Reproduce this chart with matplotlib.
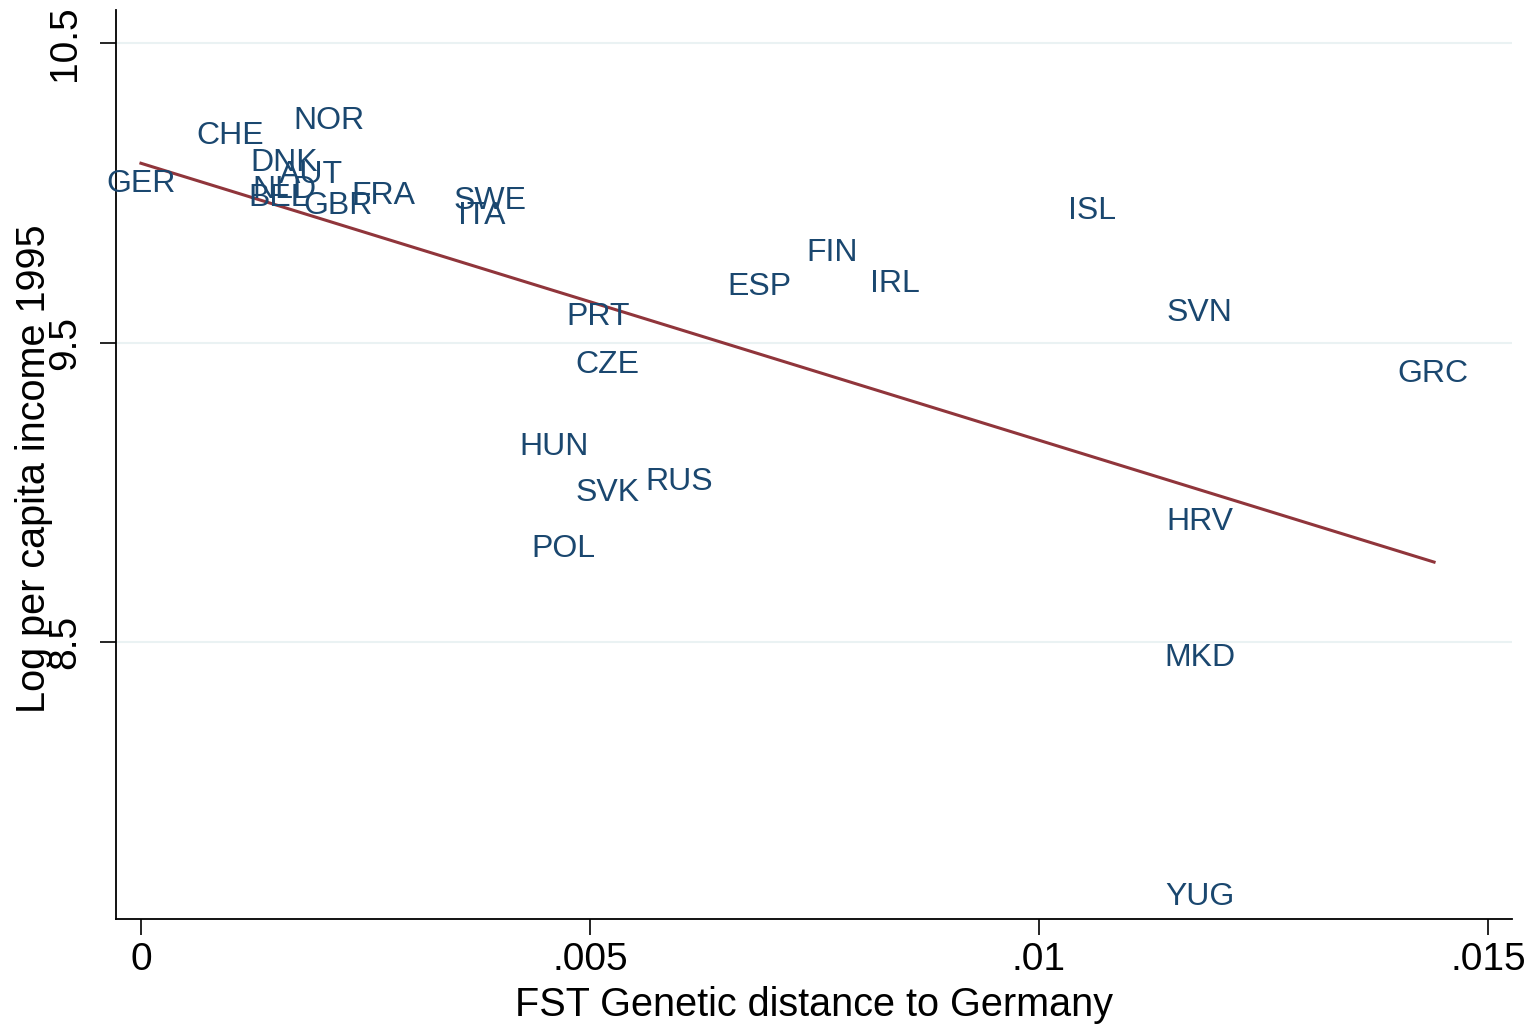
import matplotlib
matplotlib.use("Agg")
import matplotlib.pyplot as plt
import matplotlib.transforms as mtransforms
import numpy as np

plt.rcParams['font.family'] = ['Liberation Sans', 'DejaVu Sans']

# Country codes with genetic distance to Germany and log income 1995
countries = ["GER", "CHE", "NOR", "DNK", "AUT", "NLD", "BEL", "GBR", "FRA",
             "SWE", "ITA", "ISL", "FIN", "ESP", "IRL", "PRT", "SVN", "CZE",
             "GRC", "HUN", "SVK", "RUS", "HRV", "POL", "MKD", "YUG"]
fst_dist = [0.0, 0.00099, 0.00209, 0.00160, 0.00189, 0.00160, 0.00153, 0.00219,
            0.00270, 0.00389, 0.00380, 0.01059, 0.00770, 0.00689, 0.00840,
            0.00509, 0.01179, 0.00519, 0.01439, 0.00460, 0.00520, 0.00599,
            0.01179, 0.00470, 0.01179, 0.01179]
log_income = [10.039, 10.200, 10.250, 10.109, 10.069, 10.019, 9.992, 9.966,
              9.999, 9.982, 9.932, 9.949, 9.809, 9.695, 9.705, 9.595, 9.608,
              9.435, 9.405, 9.161, 9.008, 9.044, 8.911, 8.821, 8.457, 7.659]

# fitted line end points
fit_x = [0.0, 0.0144]
fit_y = [10.099, 8.767]

xticks = [0, 0.005, 0.01, 0.015]
xticklabels = ["0", ".005", ".01", ".015"]
yticks = [8.5, 9.5, 10.5]
yticklabels = ["8.5", "9.5", "10.5"]

label_color = "#1a476f"
line_color = "#90353b"

fig = plt.figure(figsize=(15.32, 10.26), dpi=100)
ax = fig.add_axes([0.0757, 0.1043, 0.9112, 0.8857])

ax.set_xlim(-0.000278, 0.015267)
ax.set_ylim(7.575, 10.61)

# horizontal grid lines
for yv in yticks:
    ax.axhline(yv, color="#eaf2f3", linewidth=1.5, zorder=0)

ax.plot(fit_x, fit_y, color=line_color, linewidth=2.2, zorder=2)

# marker labels centred on the points (nudged a touch down like Stata)
lab_trans = mtransforms.offset_copy(ax.transData, fig=fig, x=0, y=-3, units="dots")
for name, xv, yv in zip(countries, fst_dist, log_income):
    ax.text(xv, yv, name, color=label_color, fontsize=23,
            ha="center", va="center", zorder=3, transform=lab_trans)

ax.set_xticks(xticks)
ax.set_xticklabels(xticklabels)
ax.set_yticks(yticks)
ax.set_yticklabels(yticklabels, rotation=90, va="center")

ax.tick_params(axis="both", direction="out", length=11.5, width=1.2,
               labelsize=28, colors="black")
ax.tick_params(axis="x", pad=5)
ax.tick_params(axis="y", pad=12)

for side in ["top", "right"]:
    ax.spines[side].set_visible(False)
for side in ["left", "bottom"]:
    ax.spines[side].set_linewidth(1.3)

ax.set_xlabel("FST Genetic distance to Germany", fontsize=28.5)
ax.xaxis.set_label_coords(0.5, -0.074)
ax.set_ylabel("Log per capita income 1995", fontsize=28.5)
ax.yaxis.set_label_coords(-0.045, 0.496)

fig.savefig("out.png", dpi=100)
